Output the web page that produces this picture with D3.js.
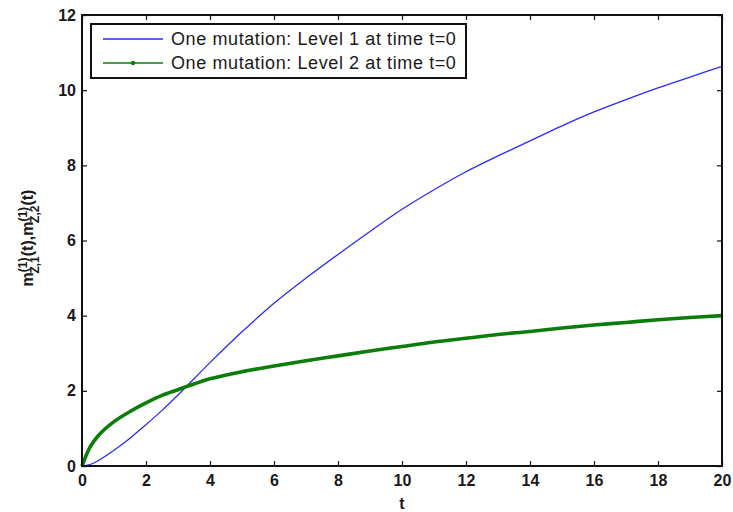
<!DOCTYPE html>
<html lang='en'>
<head>
  <meta charset='UTF-8'>
  <title>m(t)</title>
  <script src='https://d3js.org/d3.v7.min.js'></script>
  <style>
    body { margin: 0; background: #fff; }
    text { font-family: 'Liberation Sans', Arial, sans-serif; fill: #1a1a1a; }
  </style>
</head>
<body>
<div id='main'></div>
<script>
  // values
  const tVals = [0, 0.25, 0.5, 1, 1.5, 2, 2.5, 3, 3.5, 4, 5, 6, 7, 8, 9, 10, 11, 12, 13, 14, 15, 16, 17, 18, 19, 20]
  const level1 = [0, 0.04, 0.14, 0.42, 0.74, 1.1, 1.48, 1.89, 2.32, 2.75, 3.57, 4.33, 5.0, 5.63, 6.24, 6.83, 7.35, 7.83, 8.25, 8.65, 9.05, 9.42, 9.75, 10.06, 10.35, 10.63]
  const level2 = [0, 0.5, 0.8, 1.18, 1.45, 1.68, 1.88, 2.03, 2.18, 2.32, 2.51, 2.66, 2.8, 2.93, 3.06, 3.18, 3.3, 3.4, 3.5, 3.58, 3.67, 3.75, 3.82, 3.89, 3.95, 4.0]
  const xTicks = [0, 2, 4, 6, 8, 10, 12, 14, 16, 18, 20]
  const yTicks = [0, 2, 4, 6, 8, 10, 12]
  const legendNames = ['One mutation: Level 1 at time t=0', 'One mutation: Level 2 at time t=0']

  const width = 733
  const height = 512
  const m = { left: 82, right: 11, top: 15, bottom: 46 }

  const svg = d3.select('#main').append('svg')
    .attr('width', width)
    .attr('height', height)

  const x = d3.scaleLinear().domain([0, 20]).range([m.left, width - m.right])
  const y = d3.scaleLinear().domain([0, 12]).range([height - m.bottom, m.top])

  // 坐标轴 (ticks inward on all four sides)
  const tickLen = 5
  const axB = svg.append('g').attr('transform', `translate(0,${y(0)})`)
    .call(d3.axisBottom(x).tickValues(xTicks).tickSize(-tickLen).tickPadding(9).tickFormat(d3.format('d')))
  const axT = svg.append('g').attr('transform', `translate(0,${y(12)})`)
    .call(d3.axisTop(x).tickValues(xTicks).tickSize(-tickLen).tickFormat(''))
  const axL = svg.append('g').attr('transform', `translate(${x(0)},0)`)
    .call(d3.axisLeft(y).tickValues(yTicks).tickSize(-tickLen).tickPadding(6).tickFormat(d3.format('d')))
  const axR = svg.append('g').attr('transform', `translate(${x(20)},0)`)
    .call(d3.axisRight(y).tickValues(yTicks).tickSize(-tickLen).tickFormat(''))

  ;[axB, axT, axL, axR].forEach(a => {
    a.select('.domain').remove()
    a.selectAll('.tick line').attr('stroke', '#222').attr('stroke-width', 1.3)
    a.selectAll('.tick text').style('font-size', '16px').style('font-weight', 'bold').attr('fill', '#222')
  })
  axB.selectAll('.tick text').attr('dy', '0.71em')

  // 曲线
  const pts1 = tVals.map((t, i) => [t, level1[i]])
  const pts2 = tVals.map((t, i) => [t, level2[i]])
  const line = d3.line().x(d => x(d[0])).y(d => y(d[1])).curve(d3.curveCatmullRom.alpha(0.5))

  svg.append('path').datum(pts1)
    .attr('fill', 'none').attr('stroke', '#2a2aff').attr('stroke-width', 1.3)
    .attr('d', line)
  svg.append('path').datum(pts2)
    .attr('fill', 'none').attr('stroke', '#0a7d0a').attr('stroke-width', 3.6)
    .attr('d', line)

  // plot box
  svg.append('rect')
    .attr('x', x(0)).attr('y', y(12))
    .attr('width', x(20) - x(0)).attr('height', y(0) - y(12))
    .attr('fill', 'none').attr('stroke', '#111').attr('stroke-width', 2)

  // 图例
  const lg = svg.append('g')
  lg.append('rect')
    .attr('x', 91).attr('y', 24).attr('width', 375).attr('height', 54)
    .attr('fill', '#fff').attr('stroke', '#111').attr('stroke-width', 2)
  const lgColors = ['#2a2aff', '#0a7d0a']
  legendNames.forEach((name, i) => {
    const yy = 39 + i * 24
    lg.append('line')
      .attr('x1', 103).attr('x2', 163).attr('y1', yy).attr('y2', yy)
      .attr('stroke', lgColors[i]).attr('stroke-width', 1.3)
    if (i === 1) {
      lg.append('circle').attr('cx', 133).attr('cy', yy).attr('r', 2.2).attr('fill', lgColors[i])
    }
    lg.append('text')
      .attr('x', 171).attr('y', yy).attr('dy', '0.35em')
      .style('font-size', '18px').style('letter-spacing', '0.6px')
      .text(name)
  })

  // 轴标题
  svg.append('text')
    .attr('x', x(10)).attr('y', 509)
    .attr('text-anchor', 'middle')
    .style('font-size', '16px').style('font-weight', 'bold')
    .text('t')

  const yl = svg.append('text')
    .attr('transform', `translate(33,${238}) rotate(-90)`)
    .attr('text-anchor', 'middle')
    .style('font-size', '16px').style('font-weight', 'bold')
  const part = (s) => {
    yl.append('tspan').text('m')
    yl.append('tspan').attr('dy', -6).style('font-size', '12px').text('(1)')
    yl.append('tspan').attr('dx', -16).attr('dy', 12).style('font-size', '12px').text('Z,' + s)
    yl.append('tspan').attr('dy', -6).text('(t)')
  }
  part('1')
  yl.append('tspan').text(',')
  part('2')
</script>
</body>
</html>
